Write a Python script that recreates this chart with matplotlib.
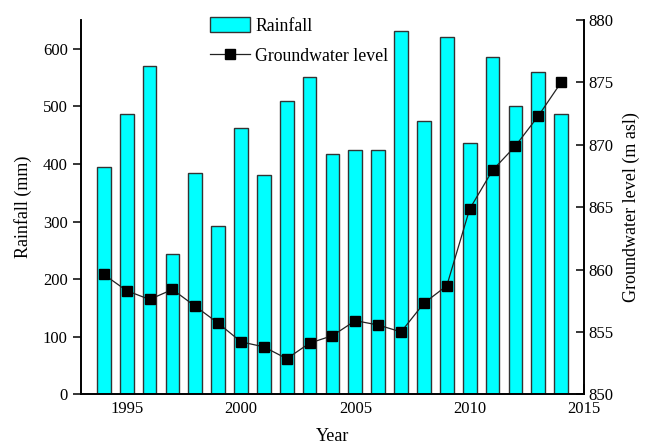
import matplotlib
matplotlib.use("Agg")
import matplotlib.pyplot as plt

years = list(range(1994, 2015))
rainfall = [395, 486, 570, 243, 385, 292, 463, 380, 510, 551, 417,
            425, 425, 630, 475, 620, 436, 586, 500, 560, 486]
groundwater = [859.6, 858.3, 857.6, 858.4, 857.05, 855.7, 854.2, 853.8,
               852.85, 854.1, 854.7, 855.9, 855.55, 855.0, 857.3, 858.7,
               864.85, 867.95, 869.9, 872.3, 875.0]
x_ticks = [1995, 2000, 2005, 2010, 2015]
left_ticks = [0, 100, 200, 300, 400, 500, 600]
right_ticks = [850, 855, 860, 865, 870, 875, 880]

plt.rcParams['font.family'] = ['Liberation Serif', 'DejaVu Serif']

fig = plt.figure(figsize=(6.46, 4.44), dpi=100)
ax1 = fig.add_axes([0.1254, 0.112, 0.904 - 0.1254, 0.955 - 0.112])
ax2 = ax1.twinx()

bars = ax1.bar(years, rainfall, width=0.6, color='#00FFFF',
               edgecolor='#333333', linewidth=1.0, label='Rainfall', zorder=2)
line, = ax2.plot(years, groundwater, color='#222222', linewidth=0.9,
                 marker='s', markersize=6.5, markerfacecolor='black',
                 markeredgecolor='black', label='Groundwater level')

ax1.set_xlim(1993, 2015)
ax1.set_ylim(0, 650)
ax2.set_ylim(850, 880)

ax1.set_xticks(x_ticks)
ax1.set_yticks(left_ticks)
ax2.set_yticks(right_ticks)

for ax in (ax1, ax2):
    ax.spines['top'].set_visible(False)
    for s in ax.spines.values():
        s.set_linewidth(1.2)

ax1.tick_params(axis='x', direction='in', length=7, width=1.1,
                labelsize=12, pad=5)
ax1.tick_params(axis='y', direction='out', length=6, width=1.1,
                labelsize=12)
ax2.tick_params(axis='y', direction='in', length=6, width=1.1,
                labelsize=12)

ax1.set_xlabel('Year', fontsize=13, labelpad=8)
ax1.set_ylabel('Rainfall (mm)', fontsize=13, labelpad=8)
ax2.set_ylabel('Groundwater level (m asl)', fontsize=13, labelpad=6)

ax2.legend([bars, line], ['Rainfall', 'Groundwater level'],
           loc='upper left', bbox_to_anchor=(0.325, 0.961),
           bbox_transform=fig.transFigure, frameon=False, fontsize=12.8,
           handlelength=2.25, handleheight=0.9, labelspacing=0.72,
           handletextpad=0.3, borderaxespad=0, borderpad=0)

fig.savefig('out.png', dpi=100)
